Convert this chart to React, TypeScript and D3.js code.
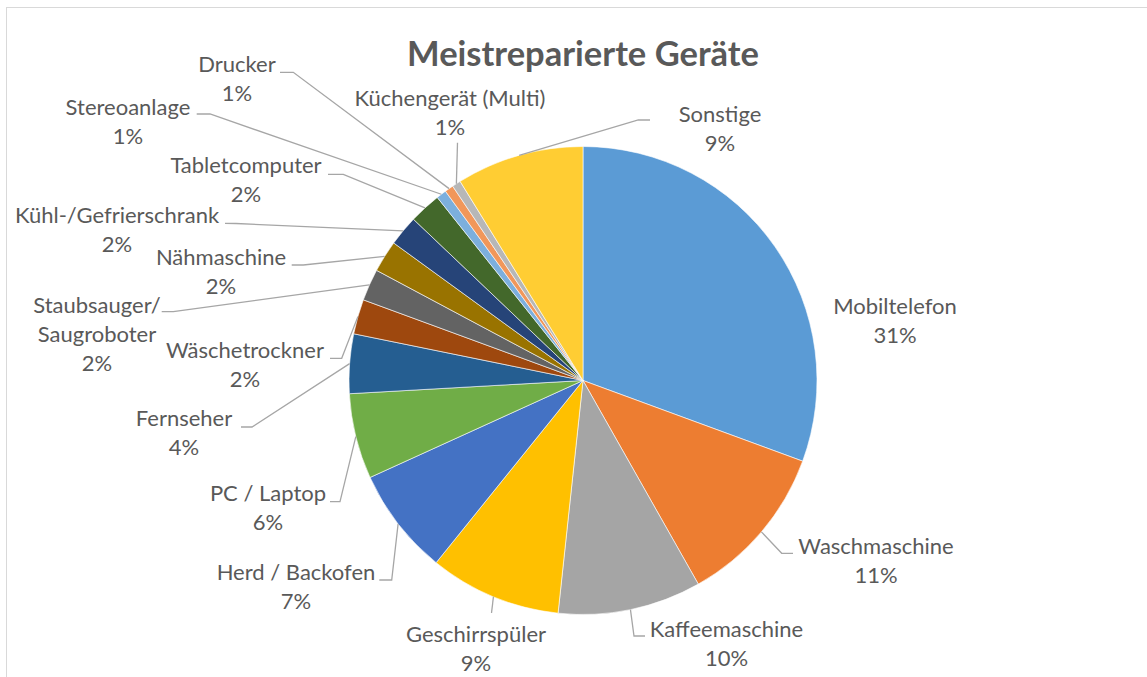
import React from "react";
import * as d3 from "d3";

const categories = [
  "Mobiltelefon",
  "Waschmaschine",
  "Kaffeemaschine",
  "Geschirrspüler",
  "Herd / Backofen",
  "PC / Laptop",
  "Fernseher",
  "Wäschetrockner",
  "Staubsauger/ Saugroboter",
  "Nähmaschine",
  "Kühl-/Gefrierschrank",
  "Tabletcomputer",
  "Stereoanlage",
  "Drucker",
  "Küchengerät (Multi)",
  "Sonstige",
];

const values = [30.6, 11.2, 9.9, 9.1, 7.4, 5.9, 4.1, 2.4, 2.2, 2.2, 2.1, 2.2, 0.7, 0.6, 0.6, 8.8];

const colors = [
  "#5B9BD5", "#ED7D31", "#A5A5A5", "#FFC000", "#4472C4", "#70AD47",
  "#255E91", "#9E480E", "#636363", "#997300", "#264478", "#43682B",
  "#7CAFDD", "#F1975A", "#B7B7B7", "#FFCD33",
];

// label layout: text centre x, first baseline y, label lines, leader elbow & end
type LabelLayout = { x: number; y: number; lines: string[]; elbow?: [number, number]; end?: [number, number] };
const labelLayout: LabelLayout[] = [
  { x: 895, y: 314, lines: ["Mobiltelefon"] },
  { x: 876, y: 554, lines: ["Waschmaschine"], elbow: [781.7, 553.3], end: [793, 553.3] },
  { x: 726.5, y: 637, lines: ["Kaffeemaschine"], elbow: [634, 636], end: [645, 636] },
  { x: 476, y: 642, lines: ["Geschirrspüler"], elbow: [491.5, 613], end: [491.5, 613] },
  { x: 296, y: 580, lines: ["Herd / Backofen"], elbow: [391.7, 580], end: [379.3, 580] },
  { x: 268, y: 501, lines: ["PC / Laptop"], elbow: [340, 501.7], end: [330, 501.7] },
  { x: 184, y: 426, lines: ["Fernseher"], elbow: [252, 427], end: [241, 427] },
  { x: 245, y: 358, lines: ["Wäschetrockner"], elbow: [341.7, 358.3], end: [330, 358.3] },
  { x: 97, y: 313, lines: ["Staubsauger/", "Saugroboter"], elbow: [173.3, 311.7], end: [161.7, 311.7] },
  { x: 221, y: 265, lines: ["Nähmaschine"], elbow: [303.3, 265], end: [291.7, 265] },
  { x: 117, y: 223.3, lines: ["Kühl-/Gefrierschrank"], elbow: [236, 223.5], end: [225, 223.3] },
  { x: 246, y: 173.3, lines: ["Tabletcomputer"], elbow: [343.3, 174.3], end: [328, 174.3] },
  { x: 128, y: 115, lines: ["Stereoanlage"], elbow: [210, 114], end: [196.7, 114] },
  { x: 237, y: 72.3, lines: ["Drucker"], elbow: [293.3, 72.3], end: [280, 72.3] },
  { x: 450, y: 106, lines: ["Küchengerät (Multi)"], elbow: [457.5, 142.7], end: [457.5, 142.7] },
  { x: 720, y: 121.7, lines: ["Sonstige"], elbow: [638.3, 120], end: [650, 120] },
];

const title = "Meistreparierte Geräte";

const W = 1147;
const H = 677;
const cx = 583;
const cy = 380.5;
const R = 234;
const LINE = 29;
const FONT = "Lato, 'Open Sans', sans-serif";
const TEXT = "#595959";

export default function App() {
  const total = d3.sum(values);
  const pie = d3
    .pie<number>()
    .sort(null)
    .value((d) => d)
    .startAngle(0)
    .endAngle(2 * Math.PI);
  const arcs = pie(values);
  const arc = d3.arc<d3.PieArcDatum<number>>().innerRadius(0).outerRadius(R);

  return (
    <svg
      width={W}
      height={H}
      style={{ position: "absolute", left: 0, top: 0, background: "#fff" }}
    >
      <rect x={0} y={0} width={W} height={H} fill="#fff" />
      <rect x={6.5} y={7.5} width={1300} height={900} fill="#fff" stroke="#D9D9D9" strokeWidth={1} />
      <text
        x={cx}
        y={66}
        textAnchor="middle"
        fontFamily={FONT}
        fontWeight={700}
        fontSize={34.5}
        fill={TEXT}
      >
        {title}
      </text>
      <g transform={`translate(${cx},${cy})`}>
        {arcs.map((a, i) => (
          <path key={i} d={arc(a) || ""} fill={colors[i]} stroke="#fff" strokeWidth={0.6} />
        ))}
      </g>
      {arcs.map((a, i) => {
        const L = labelLayout[i];
        if (!L.elbow || !L.end) return null;
        const mid = (a.startAngle + a.endAngle) / 2;
        const sx = cx + Math.sin(mid) * R;
        const sy = cy - Math.cos(mid) * R;
        const pts = [[sx, sy], L.elbow, L.end];
        return (
          <polyline
            key={"l" + i}
            points={pts.map((p) => p.join(",")).join(" ")}
            fill="none"
            stroke="#A6A6A6"
            strokeWidth={1.3}
          />
        );
      })}
      {arcs.map((a, i) => {
        const L = labelLayout[i];
        const pct = Math.round((values[i] / total) * 100) + "%";
        const lines = [...L.lines, pct];
        return (
          <text
            key={"t" + i}
            textAnchor="middle"
            fontFamily={FONT}
            fontSize={22}
            fill={TEXT}
          >
            {lines.map((ln, j) => (
              <tspan key={j} x={L.x} y={L.y + j * LINE}>
                {ln}
              </tspan>
            ))}
          </text>
        );
      })}
    </svg>
  );
}
